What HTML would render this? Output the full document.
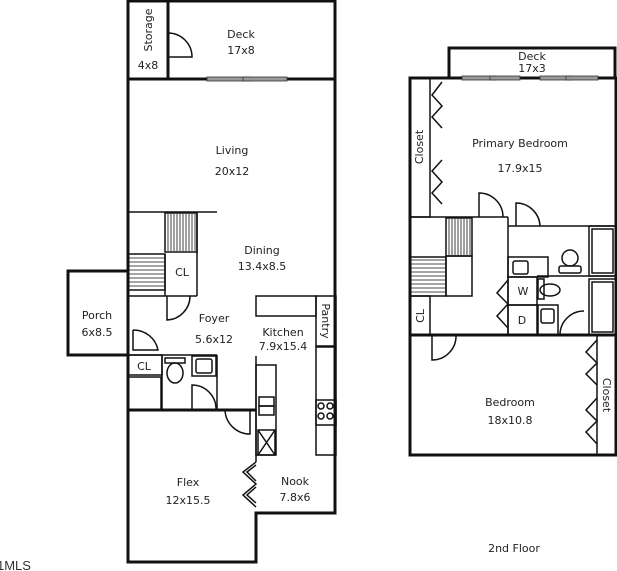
<!DOCTYPE html>
<html><head><meta charset="utf-8"><style>
html,body{margin:0;padding:0;background:#fff;}
svg{display:block;}
text{font-family:"DejaVu Sans","Liberation Sans",sans-serif;font-size:11px;fill:#222;}
</style></head><body>
<svg width="617" height="571" viewBox="0 0 617 571" xmlns="http://www.w3.org/2000/svg">
<g fill="none" stroke="#111" stroke-width="3">
<path d="M128,1 H335 V513 H256 V562 H128 Z"/>
<line x1="128" y1="79" x2="335" y2="79"/>
<line x1="168" y1="1" x2="168" y2="79"/>
<rect x="68" y="271" width="60" height="84"/>
<line x1="128" y1="410" x2="256" y2="410"/>
<rect x="410" y="78" width="206" height="377"/>
<path d="M449,78 V48 H615 V78"/>
<line x1="410" y1="335" x2="616" y2="335"/>
</g>
<g fill="none" stroke="#111" stroke-width="1.5">
<line x1="128" y1="212" x2="217" y2="212"/>
<line x1="197" y1="212" x2="197" y2="296"/>
<line x1="128" y1="296" x2="197" y2="296"/>
<line x1="165" y1="254" x2="165" y2="296"/>
<rect x="165" y="213" width="32" height="39"/>
<rect x="128" y="254" width="37" height="36"/>
<rect x="256" y="296" width="60" height="20"/>
<rect x="316" y="296" width="20" height="50"/>
<rect x="128" y="355" width="34" height="20"/>
<rect x="128" y="377" width="33" height="33"/>
<line x1="128" y1="355" x2="217" y2="355"/>
<line x1="162" y1="355" x2="162" y2="410"/>
<line x1="217" y1="355" x2="217" y2="410"/>
<rect x="192" y="356" width="24" height="20"/>
<rect x="196" y="359" width="16" height="14" rx="2"/>
<rect x="165" y="358" width="20" height="5"/>
<ellipse cx="175" cy="373" rx="8" ry="10"/>
<line x1="256" y1="356" x2="256" y2="462"/>
<rect x="256" y="365" width="20" height="90"/>
<rect x="259" y="397" width="15" height="9"/><rect x="259" y="406" width="15" height="9"/>
<rect x="258" y="430" width="17" height="25"/><path d="M258,430 L275,455 M275,430 L258,455"/>
<rect x="316" y="347" width="20" height="108"/>
<rect x="316" y="400" width="20" height="25"/>
<circle cx="321" cy="406" r="3"/><circle cx="330" cy="406" r="3"/><circle cx="321" cy="416" r="3"/><circle cx="330" cy="416" r="3"/>
<path d="M256,462 L243,472 L256,484 L243,495 L256,507 M256,465 L247,472 L256,481 M256,487 L247,495 L256,503"/>
<path d="M168,33 H168 A24,24 0 0 1 192,57 H168"/>
<path d="M167,296 V320 A24,24 0 0 0 190,296"/>
<path d="M133,330 V350 H158 A25,25 0 0 0 133,330"/>
<path d="M192,410 V385 A24,24 0 0 1 216,410"/>
<path d="M225,410 A25,25 0 0 0 250,434 V410"/>
<rect x="410" y="78" width="20" height="139"/>
<line x1="410" y1="217" x2="508" y2="217"/>
<line x1="508" y1="217" x2="508" y2="335"/>
<line x1="508" y1="226" x2="616" y2="226"/>
<rect x="446" y="218" width="26" height="38"/>
<rect x="410" y="257" width="36" height="39"/>
<rect x="446" y="256" width="26" height="40"/>
<rect x="410" y="296" width="20" height="39"/>
<rect x="508" y="257" width="40" height="20"/>
<rect x="513" y="261" width="15" height="13" rx="2"/>
<ellipse cx="570" cy="258" rx="8" ry="8"/><rect x="559" y="266" width="22" height="7" rx="2"/>
<rect x="508" y="277" width="29" height="28"/><rect x="508" y="305" width="29" height="30"/>
<rect x="538" y="305" width="20" height="30"/><rect x="541" y="309" width="13" height="14" rx="2"/>
<ellipse cx="550" cy="290" rx="10" ry="6"/><rect x="538" y="279" width="6" height="20"/>
<rect x="589" y="226" width="27" height="50"/><rect x="592" y="229" width="21" height="44"/>
<rect x="589" y="279" width="27" height="56"/><rect x="592" y="282" width="21" height="50"/>
<line x1="537" y1="276" x2="616" y2="276"/>
<line x1="597" y1="335" x2="597" y2="455"/>
<path d="M442,82 L432,95 L442,106 L432,117 L442,128 M442,160 L432,171 L442,182 L432,193 L442,204"/>
<path d="M508,280 L497,293 L508,304 L497,316 L508,328"/>
<path d="M597,340 L586,352 L597,363 L586,374 L597,385 M597,398 L586,410 L597,421 L586,432 L597,444"/>
<path d="M479,217 V193 A24,24 0 0 1 503,217"/>
<path d="M516,226 V203 A24,24 0 0 1 540,226"/>
<path d="M560,335 A24,24 0 0 1 584,311"/>
<path d="M432,335 V360 A24,24 0 0 0 456,335"/>
</g>
<g stroke="#111" stroke-width="0.8">
<path d="M168,214 V251 M171,214 V251 M174,214 V251 M177,214 V251 M180,214 V251 M183,214 V251 M186,214 V251 M189,214 V251 M192,214 V251 M195,214 V251"/>
<path d="M129,258 H165 M129,262 H165 M129,266 H165 M129,270 H165 M129,274 H165 M129,278 H165 M129,282 H165 M129,286 H165"/>
<path d="M449,219 V255 M452,219 V255 M455,219 V255 M458,219 V255 M461,219 V255 M464,219 V255 M467,219 V255 M470,219 V255"/>
<path d="M411,260 H446 M411,264 H446 M411,268 H446 M411,272 H446 M411,276 H446 M411,280 H446 M411,284 H446 M411,288 H446 M411,292 H446"/>
</g>
<g fill="#999" stroke="#333" stroke-width="0.8">
<rect x="207" y="77" width="44" height="4"/><rect x="243" y="77" width="44" height="4"/>
<rect x="462" y="76" width="34" height="4"/><rect x="490" y="76" width="30" height="4"/>
<rect x="540" y="76" width="32" height="4"/><rect x="566" y="76" width="32" height="4"/>
</g>
<g text-anchor="middle">
<text x="241" y="38">Deck</text><text x="241" y="54">17x8</text>
<text x="148" y="69">4x8</text>
<text transform="translate(152,30) rotate(-90)">Storage</text>
<text x="232" y="154">Living</text><text x="232" y="175">20x12</text>
<text x="262" y="254">Dining</text><text x="262" y="270">13.4x8.5</text>
<text x="182" y="276">CL</text>
<text x="97" y="319">Porch</text><text x="97" y="336">6x8.5</text>
<text x="214" y="322">Foyer</text><text x="214" y="343">5.6x12</text>
<text x="283" y="336">Kitchen</text><text x="283" y="350">7.9x15.4</text>
<text transform="translate(322,321) rotate(90)">Pantry</text>
<text x="144" y="370">CL</text>
<text x="188" y="486">Flex</text><text x="188" y="504">12x15.5</text>
<text x="295" y="485">Nook</text><text x="295" y="501">7.8x6</text>
<text x="532" y="60">Deck</text><text x="532" y="72">17x3</text>
<text x="520" y="147">Primary Bedroom</text><text x="520" y="172">17.9x15</text>
<text transform="translate(423,147) rotate(-90)">Closet</text>
<text transform="translate(424,316) rotate(-90)">CL</text>
<text x="523" y="295">W</text><text x="522" y="324">D</text>
<text x="510" y="406">Bedroom</text><text x="510" y="424">18x10.8</text>
<text transform="translate(603,395) rotate(90)">Closet</text>
<text x="514" y="552">2nd Floor</text>
</g>
<text x="-3" y="570" style="font-family:'Liberation Sans',sans-serif;font-size:13px;fill:#333">1MLS</text>
</svg>
</body></html>
